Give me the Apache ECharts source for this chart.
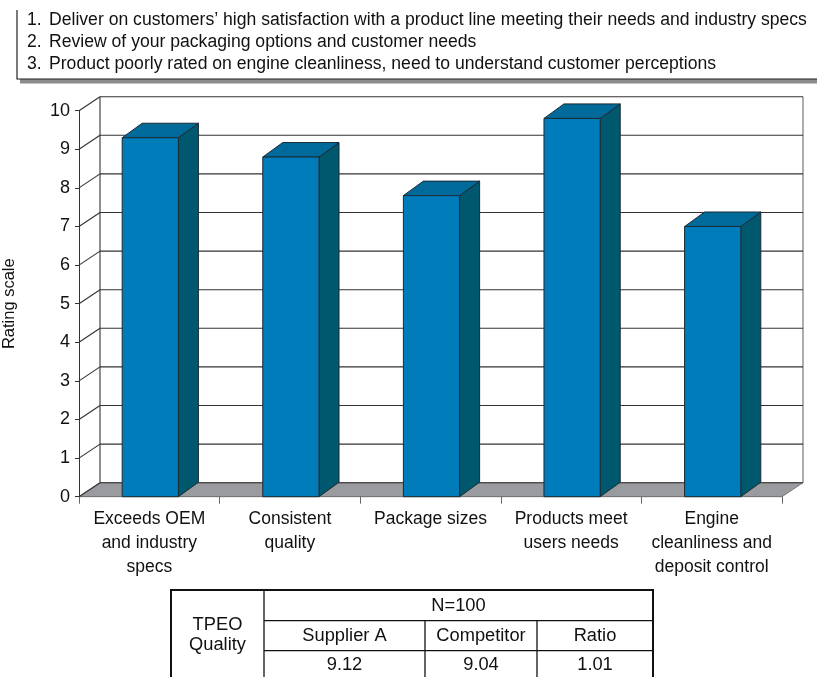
<!DOCTYPE html>
<html><head><meta charset="utf-8">
<script src="https://cdn.jsdelivr.net/npm/echarts@6/dist/echarts.min.js"></script>
<style>html,body{margin:0;padding:0;background:#fff}#c{width:817px;height:677px}</style>
</head><body><div id="c"></div>
<script>
const categories = ['Exceeds OEM\nand industry\nspecs', 'Consistent\nquality', 'Package sizes', 'Products meet\nusers needs', 'Engine\ncleanliness and\ndeposit control'];
const ratings = [9.3, 8.8, 7.8, 9.8, 7.0];
const yTicks = [0, 1, 2, 3, 4, 5, 6, 7, 8, 9, 10];
const notes = [
  'Deliver on customers\u2019 high satisfaction with a product line meeting their needs and industry specs',
  'Review of your packaging options and customer needs',
  'Product poorly rated on engine cleanliness, need to understand customer perceptions'
];
const tableRowLabel = ['TPEO', 'Quality'];
const tableHeader = 'N=100';
const tableColumns = ['Supplier A', 'Competitor', 'Ratio'];
const tableValues = ['9.12', '9.04', '1.01'];

const FONT = 'Liberation Sans';
const TXT = '#111';
const WALL_DX = 21, WALL_DY = -14;
const BAR_DX = 20, BAR_DY = -14.5;

const chart = echarts.init(document.getElementById('c'));

const graphics = [];
// notes box
graphics.push({type: 'rect', silent: true, shape: {x: 20, y: 79, width: 800, height: 4.5}, style: {fill: '#8c8c8c'}});
graphics.push({type: 'line', silent: true, shape: {x1: 17, y1: 10, x2: 17, y2: 79.5}, style: {stroke: '#222', lineWidth: 1.2}});
graphics.push({type: 'line', silent: true, shape: {x1: 17, y1: 79, x2: 817, y2: 79}, style: {stroke: '#222', lineWidth: 1.2}});
notes.forEach((t, i) => {
  const y = 20.5 + 22 * i;
  graphics.push({type: 'text', silent: true, x: 27, y: y, style: {text: (i + 1) + '.', fontFamily: FONT, fontSize: 17.6, fill: TXT, align: 'left', verticalAlign: 'middle'}});
  graphics.push({type: 'text', silent: true, x: 49, y: y, style: {text: t, fontFamily: FONT, fontSize: 17.6, fill: TXT, align: 'left', verticalAlign: 'middle'}});
});
// table
const TL = 171, TR = 653, TT = 590, C1 = 264, C2 = 425, C3 = 537, R1 = 620.7, R2 = 650.7;
graphics.push({type: 'rect', silent: true, shape: {x: TL, y: TT, width: TR - TL, height: 120}, style: {fill: 'none', stroke: '#111', lineWidth: 2}});
graphics.push({type: 'line', silent: true, shape: {x1: C1, y1: TT, x2: C1, y2: 700}, style: {stroke: '#111', lineWidth: 1.3}});
graphics.push({type: 'line', silent: true, shape: {x1: C1, y1: R1, x2: TR, y2: R1}, style: {stroke: '#111', lineWidth: 1.3}});
graphics.push({type: 'line', silent: true, shape: {x1: C1, y1: R2, x2: TR, y2: R2}, style: {stroke: '#111', lineWidth: 1.3}});
graphics.push({type: 'line', silent: true, shape: {x1: C2, y1: R1, x2: C2, y2: 700}, style: {stroke: '#111', lineWidth: 1.3}});
graphics.push({type: 'line', silent: true, shape: {x1: C3, y1: R1, x2: C3, y2: 700}, style: {stroke: '#111', lineWidth: 1.3}});
const tstyle = (text) => ({text: text, fontFamily: FONT, fontSize: 18.3, fill: TXT, align: 'center', verticalAlign: 'middle'});
graphics.push({type: 'text', silent: true, x: (TL + C1) / 2, y: 625, style: tstyle(tableRowLabel[0])});
graphics.push({type: 'text', silent: true, x: (TL + C1) / 2, y: 645, style: tstyle(tableRowLabel[1])});
graphics.push({type: 'text', silent: true, x: (C1 + TR) / 2, y: 606, style: tstyle(tableHeader)});
const colX = [(C1 + C2) / 2, (C2 + C3) / 2, (C3 + TR) / 2];
tableColumns.forEach((t, i) => graphics.push({type: 'text', silent: true, x: colX[i], y: 636, style: tstyle(t)}));
tableValues.forEach((t, i) => graphics.push({type: 'text', silent: true, x: colX[i], y: 665, style: tstyle(t)}));

function renderWall(params, api) {
  const cs = params.coordSys;
  const x0 = cs.x, x1 = cs.x + cs.width;
  const v = api.value(1);
  const y = api.coord([0, v])[1];
  const lineStyle = {stroke: '#333', lineWidth: 1.1};
  const children = [];
  if (v === 0) {
    const yTop = api.coord([0, yTicks[yTicks.length - 1]])[1];
    children.push({type: 'polygon', shape: {points: [[x0, y], [x1, y], [x1 + WALL_DX, y + WALL_DY], [x0 + WALL_DX, y + WALL_DY]]},
      style: {fill: '#9a9b9e', stroke: '#6a6a6a', lineWidth: 0.8}});
    children.push({type: 'line', shape: {x1: x0 + WALL_DX, y1: y + WALL_DY, x2: x0 + WALL_DX, y2: yTop + WALL_DY}, style: lineStyle});
    children.push({type: 'line', shape: {x1: x1 + WALL_DX, y1: y + WALL_DY, x2: x1 + WALL_DX, y2: yTop + WALL_DY}, style: {stroke: '#777', lineWidth: 1.2}});
  }
  children.push({type: 'line', shape: {x1: x0, y1: y, x2: x0 + WALL_DX, y2: y + WALL_DY}, style: lineStyle});
  children.push({type: 'line', shape: {x1: x0 + WALL_DX, y1: y + WALL_DY, x2: x1 + WALL_DX, y2: y + WALL_DY}, style: lineStyle});
  return {type: 'group', children: children};
}

function renderBar(params, api) {
  const idx = api.value(0), val = api.value(1);
  const top = api.coord([idx, val]);
  const base = api.coord([idx, 0]);
  const band = api.size([1, 0])[0];
  const w = band * 0.4;
  const xl = top[0] - w / 2 + 1, xr = xl + w;
  const yt = top[1], yb = base[1];
  const edge = {stroke: '#1c2b33', lineWidth: 1};
  return {type: 'group', children: [
    {type: 'polygon', shape: {points: [[xr, yt], [xr + BAR_DX, yt + BAR_DY], [xr + BAR_DX, yb + BAR_DY], [xr, yb]]}, style: Object.assign({fill: '#00586f'}, edge)},
    {type: 'polygon', shape: {points: [[xl, yt], [xr, yt], [xr + BAR_DX, yt + BAR_DY], [xl + BAR_DX, yt + BAR_DY]]}, style: Object.assign({fill: '#006a9a'}, edge)},
    {type: 'rect', shape: {x: xl, y: yt, width: w, height: yb - yt}, style: Object.assign({fill: '#007cba'}, edge)}
  ]};
}

chart.setOption({
  animation: false,
  backgroundColor: '#fff',
  grid: {left: 79, right: 35, top: 110.7, bottom: 180.3, containLabel: false, outerBoundsMode: 'none'},
  xAxis: {
    type: 'category', data: categories, boundaryGap: true,
    axisLine: {show: true, lineStyle: {color: '#666', width: 1}},
    axisTick: {show: true, length: 7, lineStyle: {color: '#666'}},
    axisLabel: {interval: 0, margin: 11, fontFamily: FONT, fontSize: 17.5, lineHeight: 23.7, color: TXT}
  },
  yAxis: {
    type: 'value', min: 0, max: 10, interval: 1,
    axisLine: {show: true, lineStyle: {color: '#333', width: 1}},
    axisTick: {show: true, length: 4, lineStyle: {color: '#333'}},
    axisLabel: {margin: 9, fontFamily: FONT, fontSize: 18, color: TXT},
    splitLine: {show: false},
    name: 'Rating scale', nameLocation: 'middle', nameGap: 61.5, nameRotate: 90,
    nameTextStyle: {fontFamily: FONT, fontSize: 16.5, color: TXT}
  },
  graphic: graphics,
  series: [
    {type: 'custom', name: 'walls', z: 1, silent: true, clip: false, data: yTicks.map(v => [0, v]), encode: {x: 0, y: 1}, renderItem: renderWall},
    {type: 'custom', name: 'Rating', z: 3, clip: false, data: ratings.map((v, i) => [i, v]), encode: {x: 0, y: 1}, renderItem: renderBar}
  ]
});
</script>
</body></html>
